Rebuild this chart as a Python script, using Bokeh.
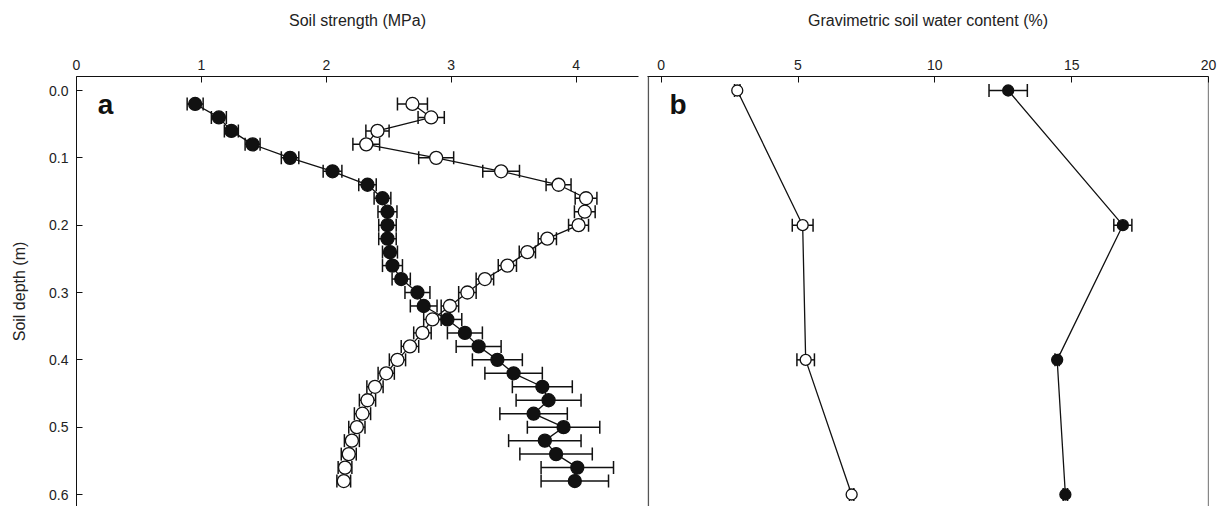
from bokeh.plotting import figure
from bokeh.layouts import row
from bokeh.models import (ColumnDataSource, Whisker, TeeHead, FixedTicker,
                          PrintfTickFormatter, Range1d, Label, Span)
from bokeh.embed import file_html
from bokeh.resources import INLINE

# ---------------- data ----------------
depth_a = [0.02, 0.04, 0.06, 0.08, 0.10, 0.12, 0.14, 0.16, 0.18, 0.20,
           0.22, 0.24, 0.26, 0.28, 0.30, 0.32, 0.34, 0.36, 0.38, 0.40,
           0.42, 0.44, 0.46, 0.48, 0.50, 0.52, 0.54, 0.56, 0.58]
strength_filled = [0.95, 1.14, 1.24, 1.41, 1.71, 2.05, 2.33, 2.45, 2.49, 2.49,
                   2.49, 2.51, 2.53, 2.60, 2.73, 2.78, 2.97, 3.11, 3.22, 3.37,
                   3.50, 3.73, 3.78, 3.66, 3.90, 3.75, 3.84, 4.01, 3.99]
strength_filled_err = [0.064, 0.06, 0.056, 0.06, 0.07, 0.075, 0.07, 0.067, 0.076, 0.07,
                       0.07, 0.06, 0.08, 0.073, 0.10, 0.107, 0.115, 0.14, 0.18, 0.20,
                       0.23, 0.24, 0.26, 0.27, 0.29, 0.29, 0.29, 0.29, 0.27]
strength_open = [2.69, 2.84, 2.41, 2.32, 2.88, 3.40, 3.86, 4.08, 4.07, 4.02,
                 3.77, 3.61, 3.45, 3.27, 3.13, 2.99, 2.85, 2.77, 2.67, 2.57,
                 2.48, 2.39, 2.33, 2.29, 2.245, 2.205, 2.18, 2.15, 2.14]
strength_open_err = [0.12, 0.105, 0.093, 0.107, 0.14, 0.147, 0.10, 0.087, 0.083, 0.08,
                     0.073, 0.065, 0.073, 0.07, 0.07, 0.07, 0.07, 0.07, 0.07, 0.065,
                     0.065, 0.065, 0.065, 0.065, 0.065, 0.06, 0.06, 0.055, 0.055]

depth_b = [0.0, 0.2, 0.4, 0.6]
water_filled = [12.68, 16.87, 14.47, 14.77]
water_filled_err = [0.70, 0.33, 0.08, 0.08]
water_open = [2.78, 5.17, 5.28, 6.96]
water_open_err = [0.10, 0.38, 0.32, 0.08]

ticks_a = [0, 1, 2, 3, 4]
ticks_b = [0, 5, 10, 15, 20]
ticks_depth = [0.0, 0.1, 0.2, 0.3, 0.4, 0.5, 0.6]

FONT = "Liberation Sans"
INK = "#111111"


def src(depth, vals, errs):
    return ColumnDataSource(dict(
        d=depth, v=vals,
        lo=[v - e for v, e in zip(vals, errs)],
        hi=[v + e for v, e in zip(vals, errs)]))


def series(p, s, filled, size):
    w = Whisker(base="d", lower="lo", upper="hi", dimension="width", source=s,
                line_color=INK, line_width=1.5,
                upper_head=TeeHead(size=13, line_color=INK, line_width=1.5),
                lower_head=TeeHead(size=13, line_color=INK, line_width=1.5))
    w.level = "underlay"
    p.add_layout(w)
    p.line("v", "d", source=s, line_color=INK, line_width=1.3)
    p.scatter("v", "d", source=s, size=size, marker="circle",
              fill_color=INK if filled else "white", line_color=INK, line_width=1.3)


def style_axis(ax, ticks):
    ax.ticker = FixedTicker(ticks=ticks)
    ax.major_tick_in = 6
    ax.major_tick_out = 0
    ax.minor_tick_in = 0
    ax.minor_tick_out = 0
    ax.axis_line_color = INK
    ax.major_tick_line_color = INK
    ax.major_label_text_font = FONT
    ax.major_label_text_font_size = "14px"
    ax.major_label_text_color = "#222222"
    ax.axis_label_text_font = FONT
    ax.axis_label_text_font_size = "16px"
    ax.axis_label_text_font_style = "normal"
    ax.axis_label_text_color = "#222222"


y_lo, y_hi = 0.6178, -0.0208

# ---------------- panel a ----------------
pa = figure(width=647, height=506, output_backend="svg", toolbar_location=None,
            x_range=Range1d(0, 4.5), y_range=Range1d(y_lo, y_hi),
            x_axis_location="above",
            min_border_left=76, min_border_right=9, min_border_top=76, min_border_bottom=0)
pa.grid.visible = False
pa.outline_line_color = None
pa.background_fill_color = "white"
style_axis(pa.xaxis[0], ticks_a)
style_axis(pa.yaxis[0], ticks_depth)
pa.xaxis[0].axis_label = "Soil strength (MPa)"
pa.xaxis[0].axis_label_standoff = 28
pa.xaxis[0].major_label_standoff = 7
pa.yaxis[0].axis_label = "Soil depth (m)"
pa.yaxis[0].axis_label_standoff = 18
pa.yaxis[0].major_label_standoff = 8
pa.yaxis[0].formatter = PrintfTickFormatter(format="%.1f")

series(pa, src(depth_a, strength_open, strength_open_err), False, 13)
series(pa, src(depth_a, strength_filled, strength_filled_err), True, 13)
pa.add_layout(Label(x=0.17, y=0.021, text="a", text_font=FONT, text_font_size="28px",
                    text_font_style="bold", text_baseline="middle", text_color=INK))

# ---------------- panel b ----------------
pb = figure(width=582, height=506, output_backend="svg", toolbar_location=None,
            x_range=Range1d(-0.5, 20), y_range=Range1d(y_lo, y_hi),
            x_axis_location="above", y_axis_location=None,
            min_border_left=0, min_border_right=21, min_border_top=76, min_border_bottom=0)
pb.grid.visible = False
pb.outline_line_color = None
style_axis(pb.xaxis[0], ticks_b)
pb.xaxis[0].axis_label = "Gravimetric soil water content (%)"
pb.xaxis[0].axis_label_standoff = 28
pb.xaxis[0].major_label_standoff = 7
pb.add_layout(Span(location=-0.47, dimension="height", line_color="#555555", line_width=1.5))
pb.add_layout(Span(location=20, dimension="height", line_color=INK, line_width=1.2))

series(pb, src(depth_b, water_open, water_open_err), False, 11)
series(pb, src(depth_b, water_filled, water_filled_err), True, 11)
pb.add_layout(Label(x=0.3, y=0.021, text="b", text_font=FONT, text_font_size="28px",
                    text_font_style="bold", text_baseline="middle", text_color=INK))

layout = row(pa, pb)
open("out.html", "w").write(file_html(layout, INLINE))
